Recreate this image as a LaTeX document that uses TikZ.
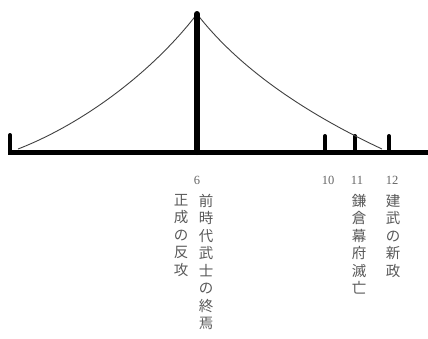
\documentclass[tikz,border=0pt]{standalone}
\usepackage{fontspec}
\setmainfont{Liberation Serif}
\newfontfamily\cjk{Noto Sans CJK JP}
\begin{document}
\begin{tikzpicture}[x=1pt,y=-1pt,
  axis/.style={line width=5pt},
  tick/.style={line width=4pt,line cap=round},
  pole/.style={line width=6pt,line cap=round},
  curve/.style={line width=0.9pt,draw=black!75},
  num/.style={font=\fontsize{12.5}{13}\selectfont,text=black!60,inner sep=0pt},
  vtext/.style={font=\cjk\fontsize{14.5}{17.5}\selectfont,text=black!65,align=center,anchor=north,inner sep=0pt}]
\useasboundingbox (0,0) rectangle (428,338);
\coordinate (L) at (8,152);
\coordinate (R) at (428,152);
\coordinate (Ltop) at (10,135);
\coordinate (Lbot) at (10,152);
\coordinate (Ptop) at (197,14);
\coordinate (Pbot) at (197,152);
\coordinate (T10a) at (325,136);
\coordinate (T10b) at (325,151);
\coordinate (T11a) at (355,136);
\coordinate (T11b) at (355,151);
\coordinate (T12a) at (389,136);
\coordinate (T12b) at (389,151);
\coordinate (CL) at (18,149);
\coordinate (CR) at (382,149);
\draw[axis] (L) -- (R);
\draw[tick] (Ltop) -- (Lbot);
\draw[tick] (T10a) -- (T10b);
\draw[tick] (T11a) -- (T11b);
\draw[tick] (T12a) -- (T12b);
\draw[curve] (CL) .. controls (80,125) and (150,75) .. (Ptop);
\draw[curve] (Ptop) .. controls (245,76) and (320,120) .. (CR);
\draw[pole] (Ptop) -- (Pbot);
\node[num] (n6) at (197,180) {6};
\node[num] (n10) at (328,180) {10};
\node[num] (n11) at (357,180) {11};
\node[num] (n12) at (392,180) {12};
\node[vtext] (a) at (206,194) {前\\時\\代\\武\\士\\の\\終\\焉};
\node[vtext] (b) at (181,194) {正\\成\\の\\反\\攻};
\node[vtext] (c) at (359,194) {鎌\\倉\\幕\\府\\滅\\亡};
\node[vtext] (d) at (393,194) {建\\武\\の\\新\\政};
\end{tikzpicture}
\end{document}
